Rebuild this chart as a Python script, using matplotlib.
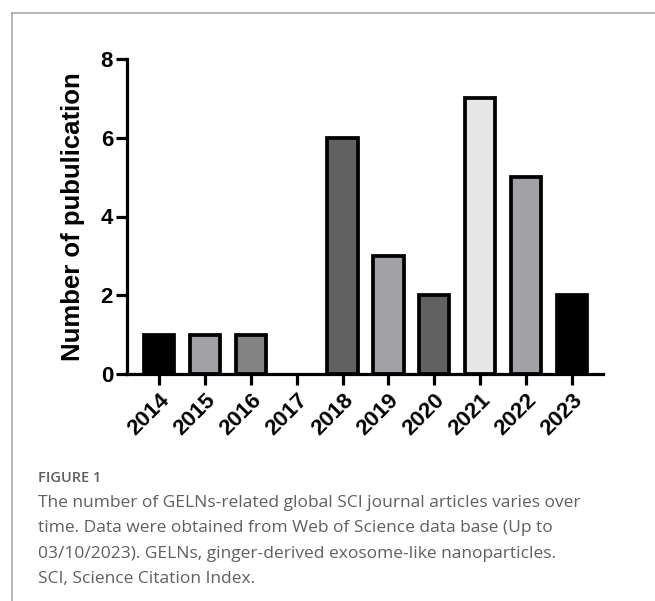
import matplotlib
matplotlib.use("Agg")
import matplotlib.pyplot as plt
from matplotlib.lines import Line2D

years = ["2014", "2015", "2016", "2017", "2018", "2019", "2020", "2021", "2022", "2023"]
counts = [1, 1, 1, 0, 6, 3, 2, 7, 5, 2]
bar_colors = ["#000000", "#a2a1a6", "#838383", "#ffffff", "#616161",
              "#a2a1a6", "#616161", "#e6e6e6", "#a2a1a6", "#000000"]
yticks = [0, 2, 4, 6, 8]
ylabel = "Number of pubulication"
fig_label = "FIGURE 1"
caption_lines = [
    "The number of GELNs-related global SCI journal articles varies over",
    "time. Data were obtained from Web of Science data base (Up to",
    "03/10/2023). GELNs, ginger-derived exosome-like nanoparticles.",
    "SCI, Science Citation Index.",
]

W, H = 655, 601
fig = plt.figure(figsize=(W / 100, H / 100), dpi=100)
ax = fig.add_axes([127 / W, 1 - 374 / H, (603 - 127) / W, (374 - 59) / H])

x = list(range(len(years)))
lws = [2.7 if c > 0 else 0 for c in counts]
ax.bar(x, counts, width=0.66, color=bar_colors, edgecolor="black", linewidth=lws, zorder=2)
ax.set_xlim(-0.7, 9.68)
ax.set_ylim(0, 8)
ax.set_yticks(yticks)
ax.set_xticks(x)
ax.set_xticklabels(years, rotation=45, ha="right", rotation_mode="anchor",
                   fontsize=16, fontweight="bold", family="Liberation Sans")
ax.set_yticklabels([str(v) for v in yticks], fontsize=16, fontweight="bold",
                   family="Liberation Sans")
ax.set_ylabel(ylabel, fontsize=18.5, fontweight="bold", family="Liberation Sans", labelpad=11)
for s in ["top", "right"]:
    ax.spines[s].set_visible(False)
for s in ["left", "bottom"]:
    ax.spines[s].set_linewidth(2.3)
ax.tick_params(axis="both", width=2.3, length=8, pad=2)
ax.tick_params(axis="x", pad=3)

# panel frame lines
fig.add_artist(Line2D([12 / W, 1], [1 - 13 / H, 1 - 13 / H], color="#aaaaaa", lw=1.2))
fig.add_artist(Line2D([12 / W, 12 / W], [0, 1 - 13 / H], color="#aaaaaa", lw=1.2))

fig.text(38 / W, 1 - 478 / H, fig_label, fontsize=10.5, color="#5f5f5f",
         family="Open Sans", fontweight="semibold", va="center", ha="left")
for i, line in enumerate(caption_lines):
    fig.text(38 / W, 1 - (503 + 25.3 * i) / H, line, fontsize=12.5, color="#5f5f5f",
             family="Open Sans", va="center", ha="left")

fig.savefig("out.png", dpi=100)
